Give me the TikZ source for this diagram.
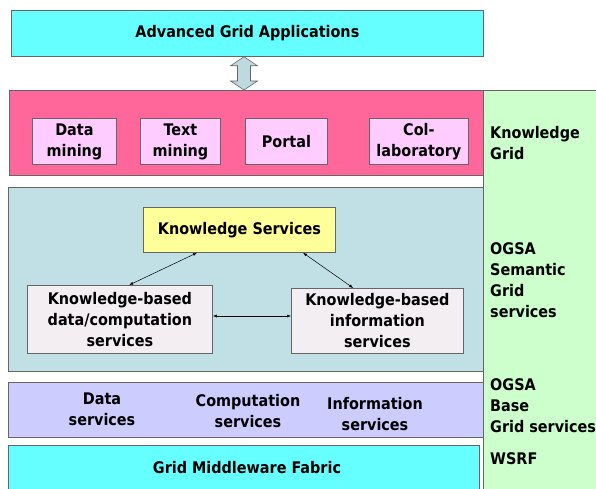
\documentclass[tikz,border=0pt]{standalone}
\usepackage{fontspec}
\setmainfont{DejaVu Sans Condensed}[BoldFont={DejaVu Sans Condensed Bold}]
\usetikzlibrary{arrows.meta,calc}
\definecolor{cyanc}{HTML}{66FFFF}
\definecolor{pinkc}{HTML}{FF6699}
\definecolor{pinkin}{HTML}{FFCCFF}
\definecolor{greenc}{HTML}{CCFFCC}
\definecolor{bluec}{HTML}{C0E0E6}
\definecolor{yellowc}{HTML}{FFFF99}
\definecolor{greyin}{HTML}{F2EEF2}
\definecolor{lavc}{HTML}{CCCCFF}
\definecolor{arrc}{HTML}{BFD9E0}
\definecolor{bord}{HTML}{666666}
\begin{document}
\begin{tikzpicture}[x=1pt,y=-1pt,
  font=\bfseries\fontsize{16}{21}\selectfont,
  box/.style={draw=bord, line width=0.8pt, anchor=north west, inner sep=0pt, align=center},
  lbl/.style={anchor=west, align=left, inner sep=0pt},
  txt/.style={align=center, inner sep=0pt},
  link/.style={line width=0.5pt, {Latex[length=4pt,width=3pt]}-{Latex[length=4pt,width=3pt]}}]
\useasboundingbox (0,0) rectangle (596,489);
\fill[white] (0,0) rectangle (596,489);
% right column
\node[box, fill=greenc, minimum width=114, minimum height=402] (col) at (483,90) {};
% top application box
\node[box, fill=cyanc, minimum width=472, minimum height=46] (app) at (11,10) {Advanced Grid Applications};
% knowledge grid band
\node[box, fill=pinkc, minimum width=474, minimum height=85] (kg) at (9,90) {};
\node[box, fill=pinkin, minimum width=84, minimum height=46] (dm) at (32,118) {Data\\mining};
\node[box, fill=pinkin, minimum width=80, minimum height=46] (tm) at (140,118) {Text\\mining};
\node[box, fill=pinkin, minimum width=82, minimum height=46] (po) at (245,118) {Portal};
\node[box, fill=pinkin, minimum width=99, minimum height=46] (cl) at (369,118) {Col-\\laboratory};
\node[lbl] (kgl) at (490,143) {Knowledge\\Grid};
% double arrow
\path (app.south -| 244,0) coordinate (dat) (kg.north -| 244,0) coordinate (dab);
\draw[bord, fill=arrc, line width=0.6pt]
  ($(dat)$) -- ++(13.5,9) -- ++(-7,0) -- ($(dab)+(6.5,-9)$) -- ++(7,0) -- (dab)
  -- ++(-13.5,-9) -- ++(7,0) -- ($(dat)+(-6.5,9)$) -- ++(-7,0) -- cycle;
% semantic band
\node[box, fill=bluec, minimum width=475, minimum height=184] (sem) at (8,187) {};
\node[box, fill=yellowc, minimum width=192, minimum height=45] (ks) at (143,207) {Knowledge Services};
\node[box, fill=greyin, minimum width=185, minimum height=68] (kbd) at (27,285) {Knowledge-based\\data/computation\\services};
\node[box, fill=greyin, minimum width=172, minimum height=65] (kbi) at (291,288) {Knowledge-based\\information\\services};
\node[lbl] (seml) at (490,280) {OGSA\\Semantic\\Grid\\services};
\draw[link] ($(ks.south west)!0.28!(ks.south east)$) -- ($(kbd.north west)!0.55!(kbd.north east)$);
\draw[link] ($(ks.south west)!0.83!(ks.south east)$) -- ($(kbi.north west)!0.36!(kbi.north east)$);
\draw[link] (kbd.east |- 0,316) coordinate (hl) -- (hl -| kbi.west);
% base band
\node[box, fill=lavc, minimum width=475, minimum height=55] (base) at (8,382) {};
\node[txt] (ds) at (102,409) {Data\\services};
\node[txt] (cs) at (248,411) {Computation\\services};
\node[txt] (is) at (375,414) {Information\\services};
\node[lbl] (basel) at (490,406) {OGSA\\Base\\Grid services};
% fabric
\node[box, fill=cyanc, minimum width=471, minimum height=50] (fab) at (8,445) {};
\node[txt] (fabt) at (247,468) {Grid Middleware Fabric};
\node[lbl] (wsrf) at (490,459) {WSRF};
\end{tikzpicture}
\end{document}
